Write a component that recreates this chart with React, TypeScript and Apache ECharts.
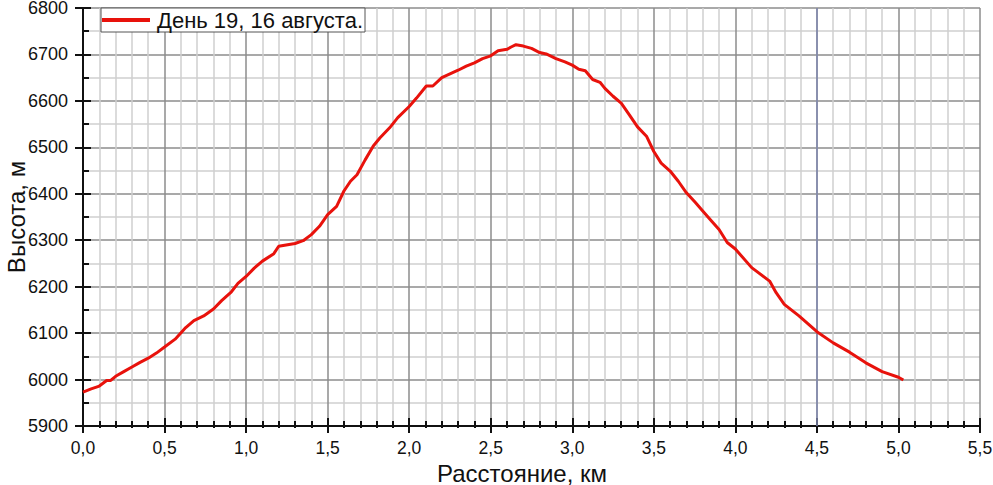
import React, { useEffect, useRef } from "react";
import * as echarts from "echarts";

const seriesName = "День 19, 16 августа.";
const xAxisTitle = "Расстояние, км";
const yAxisTitle = "Высота, м";

const distanceKm = [
  0.0, 0.05, 0.1, 0.145, 0.17, 0.2, 0.25, 0.3, 0.35, 0.4, 0.45, 0.5, 0.565, 0.63, 0.68, 0.74, 0.8, 0.85,
  0.91, 0.95, 1.0, 1.05, 1.1, 1.17, 1.2, 1.3, 1.35, 1.4, 1.45, 1.5, 1.555, 1.6, 1.64, 1.68, 1.73, 1.78,
  1.82, 1.88, 1.93, 2.0, 2.045, 2.105, 2.145, 2.2, 2.25, 2.3, 2.35, 2.4, 2.45, 2.5, 2.545, 2.6, 2.625,
  2.655, 2.7, 2.75, 2.8, 2.84, 2.9, 2.955, 3.0, 3.04, 3.08, 3.125, 3.17, 3.2, 3.25, 3.3, 3.35, 3.4,
  3.455, 3.5, 3.545, 3.6, 3.65, 3.7, 3.755, 3.8, 3.855, 3.9, 3.95, 4.0, 4.1, 4.21, 4.25, 4.3, 4.39, 4.5,
  4.6, 4.7, 4.8, 4.9, 5.0, 5.03,
];
const altitudeM = [
  5973, 5980, 5986, 5998, 5998, 6007, 6017, 6027, 6037, 6046, 6057, 6070, 6087, 6112, 6127, 6137, 6152, 6170,
  6189, 6207, 6222, 6240, 6255, 6271, 6287, 6293, 6299, 6312, 6330, 6355, 6373, 6406, 6427, 6441, 6473, 6503,
  6520, 6542, 6564, 6588, 6606, 6632, 6632, 6650, 6658, 6666, 6675, 6682, 6691, 6697, 6708, 6711, 6716,
  6721, 6718, 6713, 6704, 6701, 6691, 6684, 6677, 6668, 6665, 6646, 6640, 6627, 6610, 6595, 6570, 6544,
  6524, 6491, 6466, 6449, 6427, 6402, 6381, 6363, 6341, 6323, 6295, 6281, 6241, 6212, 6187, 6162, 6137, 6103,
  6079, 6059, 6036, 6017, 6005, 5999,
];
const cursorKm = [4.5];

const X_MIN = 0;
const X_MAX = 5.5;
const X_STEP = 0.5;
const Y_MIN = 5900;
const Y_MAX = 6800;
const Y_STEP = 100;

const FONT = "'Liberation Sans', Arial, sans-serif";

export default function App() {
  const ref = useRef<HTMLDivElement>(null);

  useEffect(() => {
    if (!ref.current) return;
    const chart = echarts.init(ref.current, null, { renderer: "svg" });
    const data = distanceKm.map((x, i) => [x, altitudeM[i]]);
    const grid = { left: 83, right: 13, top: 8, bottom: 59, containLabel: false, outerBoundsMode: "none" };

    const xBase = {
      type: "value" as const,
      min: X_MIN,
      max: X_MAX,
      interval: X_STEP,
      position: "bottom" as const,
    };
    const yBase = {
      type: "value" as const,
      min: Y_MIN,
      max: Y_MAX,
      interval: Y_STEP,
      position: "left" as const,
    };

    chart.setOption({
      animation: false,
      backgroundColor: "#ffffff",
      textStyle: { fontFamily: FONT },
      grid,
      legend: {
        show: true,
        left: 101,
        top: 8,
        orient: "horizontal",
        backgroundColor: "#ffffff",
        borderColor: "#555555",
        borderWidth: 1,
        borderRadius: 0,
        padding: [1, 2, 1, 1],
        itemWidth: 48,
        itemHeight: 4,
        itemGap: 0,
        icon: "rect",
        textStyle: { fontFamily: FONT, fontSize: 22, color: "#111111", padding: [0, 0, 0, 2] },
        data: [seriesName],
      },
      xAxis: [
        {
          ...xBase,
          name: xAxisTitle,
          nameLocation: "middle",
          nameGap: 36,
          nameMoveOverlap: false,
          nameTextStyle: {
            fontFamily: FONT,
            fontSize: 24,
            lineHeight: 22,
            color: "#111111",
            padding: [0, 19, 0, 0],
          },
          axisLine: { show: true, onZero: false, lineStyle: { color: "#111111", width: 2 } },
          axisTick: { show: true, inside: true, length: 8, lineStyle: { color: "#111111", width: 2 } },
          minorTick: { show: true, splitNumber: 5, length: 5, lineStyle: { color: "#111111", width: 2 } },
          axisLabel: {
            show: true,
            margin: 14,
            fontFamily: FONT,
            fontSize: 17.5,
            lineHeight: 15,
            color: "#111111",
            formatter: (v: number) => v.toFixed(1).replace(".", ","),
          },
          splitLine: { show: true, lineStyle: { color: "#8c8c8c", width: 1.5 } },
          minorSplitLine: { show: true, lineStyle: { color: "#cfcfcf", width: 1.5 } },
        },
        {
          ...xBase,
          axisLine: { show: false, onZero: false },
          axisTick: { show: true, inside: false, length: 7, lineStyle: { color: "#111111", width: 2 } },
          minorTick: { show: true, splitNumber: 5, length: 2, lineStyle: { color: "#111111", width: 2 } },
          axisLabel: { show: false },
          splitLine: { show: false },
        },
      ],
      yAxis: [
        {
          ...yBase,
          name: yAxisTitle,
          nameLocation: "middle",
          nameGap: 55,
          nameMoveOverlap: false,
          nameTextStyle: { fontFamily: FONT, fontSize: 24, color: "#111111" },
          axisLine: { show: true, onZero: false, lineStyle: { color: "#111111", width: 2 } },
          axisTick: { show: true, inside: true, length: 8, lineStyle: { color: "#111111", width: 2 } },
          minorTick: { show: true, splitNumber: 2, length: 6, lineStyle: { color: "#111111", width: 2 } },
          axisLabel: {
            show: true,
            margin: 15,
            fontFamily: FONT,
            fontSize: 18,
            lineHeight: 15,
            color: "#111111",
            formatter: (v: number) => String(v),
          },
          splitLine: { show: true, lineStyle: { color: "#8c8c8c", width: 1.5 } },
          minorSplitLine: { show: true, lineStyle: { color: "#cfcfcf", width: 1.5 } },
        },
        {
          ...yBase,
          axisLine: { show: false, onZero: false },
          axisTick: { show: true, inside: false, length: 8, lineStyle: { color: "#111111", width: 2 } },
          minorTick: { show: false },
          axisLabel: { show: false },
          splitLine: { show: false },
        },
      ],
      series: [
        {
          name: seriesName,
          type: "line",
          xAxisIndex: 0,
          yAxisIndex: 0,
          data,
          showSymbol: false,
          symbol: "none",
          smooth: false,
          lineStyle: { color: "#e8120c", width: 3 },
          itemStyle: { color: "#e8120c" },
          z: 5,
          markLine: {
            silent: true,
            symbol: "none",
            label: { show: false },
            lineStyle: { color: "#8088b0", width: 1.5, type: "solid" },
            data: cursorKm.map((x) => ({ xAxis: x })),
            z: 1,
          },
        },
      ],
    });

    return () => chart.dispose();
  }, []);

  return (
    <div
      ref={ref}
      style={{ position: "absolute", left: 0, top: 0, width: 993, height: 485 }}
    />
  );
}
